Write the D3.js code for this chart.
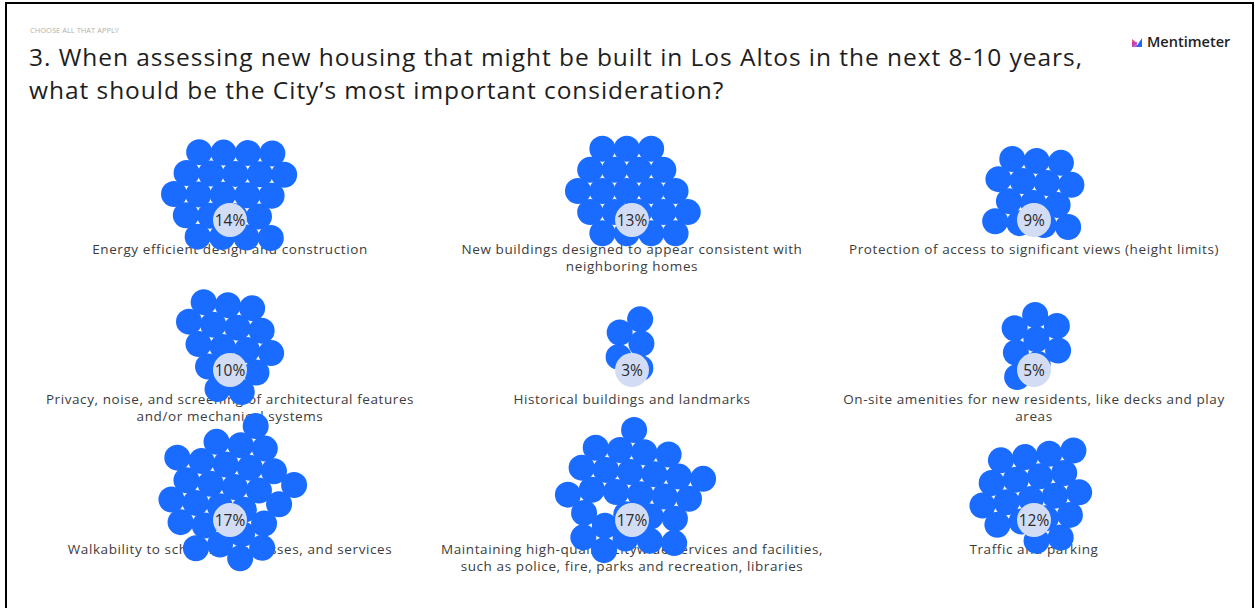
<!DOCTYPE html>
<html><head><meta charset="utf-8">
<script src="https://cdn.jsdelivr.net/npm/d3@7"></script>
<style>
html,body{margin:0;padding:0;background:#fff;}
svg{display:block;}
</style></head>
<body>
<svg id="chart" width="1255" height="608"></svg>
<script>
// ---- data ----
const categories = [
  "Energy efficient design and construction",
  "New buildings designed to appear consistent with\nneighboring homes",
  "Protection of access to significant views (height limits)",
  "Privacy, noise, and screening of architectural features\nand/or mechanical systems",
  "Historical buildings and landmarks",
  "On-site amenities for new residents, like decks and play\nareas",
  "Walkability to schools, businesses, and services",
  "Maintaining high-quality Citywide services and facilities,\nsuch as police, fire, parks and recreation, libraries",
  "Traffic and parking"
];
const percents = [14, 13, 9, 10, 3, 5, 17, 17, 12];
const votes = [22, 21, 14, 16, 5, 8, 27, 27, 19];
const subtitle = "CHOOSE ALL THAT APPLY";
const titleLines = [
  "3. When assessing new housing that might be built in Los Altos in the next 8-10 years,",
  "what should be the City\u2019s most important consideration?"
];

// ---- layout ----
const svg = d3.select("#chart");
const FONT = "'Open Sans', 'Noto Sans', sans-serif";
const BLUE = "#196cff";
const dotR = 13;

function fitSpacing(sel, target) {
  const node = sel.node();
  const w = node.getComputedTextLength();
  const n = node.textContent.length;
  return (target - w) / Math.max(1, n - 1);
}

svg.append("rect").attr("x", 6).attr("y", 3).attr("width", 1247).attr("height", 620)
  .attr("fill", "#fff").attr("stroke", "#000").attr("stroke-width", 2);

svg.append("text").attr("x", 30).attr("y", 33).text(subtitle)
  .attr("font-family", FONT).attr("font-size", 7.5).attr("fill", "#b0b0b0");
const titles = svg.append("g").selectAll("text").data(titleLines).join("text")
  .attr("x", 29).attr("y", (d, i) => 66 + i * 33)
  .attr("font-family", FONT).attr("font-size", 24.5).attr("fill", "#1e1e1e")
  .text(d => d);
const tls = fitSpacing(titles.filter((d, i) => i === 0), 1053);
titles.attr("letter-spacing", tls);

// logo
const logo = svg.append("g").attr("transform", "translate(1132,36)");
logo.append("path").attr("d", "M0,11 L0,3 L5,7 Z").attr("fill", "#f0566b");
logo.append("path").attr("d", "M4,11 L10,2 L10,11 Z").attr("fill", "#196cff");
logo.append("rect").attr("x", 0).attr("y", 6).attr("width", 5).attr("height", 5).attr("fill", "#b93fc8").attr("opacity", 0.8);
logo.append("text").attr("x", 15).attr("y", 11).text("Mentimeter")
  .attr("font-family", FONT).attr("font-size", 14.5).attr("font-weight", 600).attr("fill", "#222");

const colX = d3.scalePoint().domain([0, 1, 2]).range([230, 1034]);
const rowY = d3.scalePoint().domain([0, 1, 2]).range([249, 549]);

const items = categories.map((c, i) => ({
  label: c, pct: percents[i], n: votes[i],
  x: colX(i % 3), y: rowY(Math.floor(i / 3))
}));

const probe = svg.append("text").attr("font-family", FONT).attr("font-size", 13.5).text(categories[0]);
const labelSpacing = fitSpacing(probe, 275);
probe.remove();

const g = svg.append("g");
items.forEach((it, k) => {
  const grp = g.append("g");
  const lines = it.label.split("\n");
  grp.append("g").selectAll("text").data(lines).join("text")
    .attr("x", it.x).attr("y", (d, i) => it.y + 4.5 + i * 17)
    .attr("text-anchor", "middle").attr("font-family", FONT)
    .attr("font-size", 13.5).attr("letter-spacing", labelSpacing)
    .attr("fill", "#3c3c3c").text(d => d);

  const lx = it.x, ly = it.y - 29;
  const cx = lx, cy = ly - 26;
  const golden = Math.PI * (3 - Math.sqrt(5));
  const nodes = d3.range(it.n).map(i => ({
    i,
    x: cx + 7 * Math.sqrt(i + 0.5) * Math.cos(i * golden + k),
    y: cy + 7 * Math.sqrt(i + 0.5) * Math.sin(i * golden + k)
  }));
  const sim = d3.forceSimulation(nodes)
    .force("x", d3.forceX(cx).strength(0.05))
    .force("y", d3.forceY(cy).strength(0.05))
    .force("c", d3.forceCollide(dotR - 0.8).iterations(2))
    .stop();
  for (let t = 0; t < 400; t++) sim.tick();

  grp.append("g").selectAll("circle").data(nodes).join("circle")
    .attr("cx", d => d.x).attr("cy", d => d.y).attr("r", dotR).attr("fill", BLUE);
  grp.append("circle").attr("cx", lx).attr("cy", ly).attr("r", 17)
    .attr("fill", "#d2ddf5");
  grp.append("text").attr("x", lx).attr("y", ly + 5.5).attr("text-anchor", "middle")
    .attr("font-family", FONT).attr("font-size", 15.5).attr("fill", "#2a2a2a")
    .text(it.pct + "%");
});
</script>
</body></html>
